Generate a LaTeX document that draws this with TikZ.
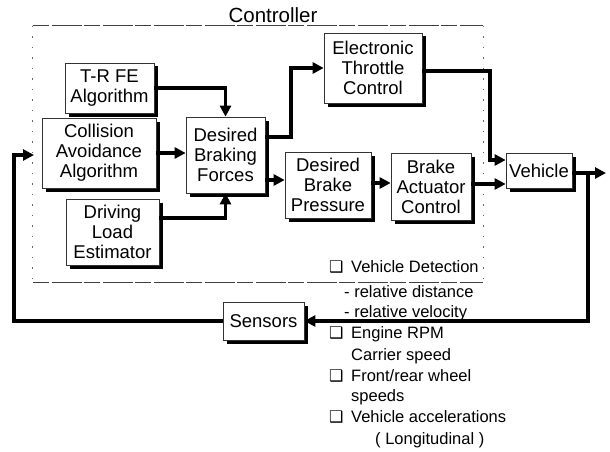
\documentclass[tikz,border=0pt]{standalone}
\usepackage{fontspec}
\setmainfont{Liberation Sans}
\newfontfamily\dvfont{DejaVu Sans}
\usetikzlibrary{arrows.meta,shadows}
\begin{document}
\begin{tikzpicture}[x=1pt,y=-1pt,
 blk/.style={draw=black!80, line width=0.7pt, fill=white, align=center, inner sep=0pt,
   font=\fontsize{18.5}{20}\selectfont,
   drop shadow={shadow xshift=3.5pt, shadow yshift=-3.5pt, fill=black, opacity=1}},
 arr/.style={line width=3.2pt, -{Triangle[length=11pt,width=11pt]}},
 lst/.style={anchor=base west, inner sep=0pt, font=\fontsize{16.5}{18}\selectfont},
 bndh/.style={line width=0.7pt, black!75, dash pattern=on 16pt off 3pt on 30pt off 2pt},
 bndv/.style={line width=0.8pt, black!60, dash pattern=on 1.5pt off 9pt},
]
\useasboundingbox (0,0) rectangle (610,452);

% controller boundary
\node[minimum width=450pt, minimum height=256pt, inner sep=0pt] (ctrl) at (258,154) {};
\draw[bndh] (ctrl.north west) -- (ctrl.north east);
\draw[bndh] (ctrl.south west) -- (ctrl.south east);
\draw[bndv] (ctrl.north west) -- (ctrl.south west);
\draw[bndv] (ctrl.north east) -- (ctrl.south east);
\node[font=\fontsize{20.5}{21}\selectfont, inner sep=0pt] (ctrltxt) at (273,15) {Controller};

% blocks
\node[blk, minimum width=89pt, minimum height=50pt] (trfe) at (109.5,88) {T-R FE\\Algorithm};
\node[blk, minimum width=114pt, minimum height=70pt] (caa) at (99,153) {Collision\\Avoidance\\Algorithm};
\node[blk, minimum width=93pt, minimum height=66pt] (dle) at (112.5,232) {Driving\\Load\\Estimator};
\node[blk, minimum width=79pt, minimum height=76pt] (dbf) at (225.5,155) {Desired\\Braking\\Forces};
\node[blk, minimum width=98pt, minimum height=70pt] (etc) at (373,68) {Electronic\\Throttle\\Control};
\node[blk, minimum width=86pt, minimum height=66pt] (dbp) at (328,185) {Desired\\Brake\\Pressure};
\node[blk, minimum width=80pt, minimum height=67pt] (bac) at (431,186.5) {Brake\\Actuator\\Control};
\node[blk, minimum width=66pt, minimum height=35pt] (veh) at (539,170.5) {Vehicle};
\node[blk, minimum width=81pt, minimum height=38pt] (sens) at (263.5,321) {Sensors};

% helper coordinates
\coordinate (y137) at (0,137);
\coordinate (y180) at (0,180);
\coordinate (y183) at (0,183);
\coordinate (y184) at (0,184);
\coordinate (y218) at (0,218);
\coordinate (y71) at (0,71);
\coordinate (y173) at (0,173);
\coordinate (j1) at (291,137);
\coordinate (j2) at (490,160);
\coordinate (out) at (606,173);
\coordinate (fb) at (588,173);
\coordinate (fl) at (14,155);
\coordinate (cin) at (34,155);

% connectors
\draw[arr] (trfe.east) -| (dbf.north);
\draw[arr] (caa.east) -- (caa.east -| dbf.west);
\draw[arr] (dle.east |- y218) -| (dbf.south);
\draw[arr] (dbf.east |- y137) -- (j1) |- (etc.west);
\draw[arr] (dbf.east |- y180) -- (dbp.west |- y180);
\draw[arr] (dbp.east |- y183) -- (bac.west |- y183);
\draw[arr] (bac.east |- y184) -- (veh.west |- y184);
\draw[arr] (etc.east |- y71) -| (j2) -- (veh.west |- j2);
\draw[arr] (veh.east |- y173) -- (out);
\draw[arr] (fb) |- (sens.east);
\draw[arr] (sens.west) -| (fl) -- (cin);

% list
\newcommand{\cbx}{\makebox[22pt][l]{\dvfont\fontsize{16}{16}\selectfont ❑}}
\node[lst] (l1) at (329,272) {\cbx Vehicle Detection};
\node[lst] (l2) at (344,297) {- relative distance};
\node[lst] (l3) at (344,317) {- relative velocity};
\node[lst] (l4) at (329,338) {\cbx Engine RPM};
\node[lst] (l5) at (351,360) {Carrier speed};
\node[lst] (l6) at (329,381) {\cbx Front/rear wheel};
\node[lst] (l7) at (351,401) {speeds};
\node[lst] (l8) at (329,422) {\cbx Vehicle accelerations};
\node[lst] (l9) at (375,444) {( Longitudinal )};
\end{tikzpicture}
\end{document}
